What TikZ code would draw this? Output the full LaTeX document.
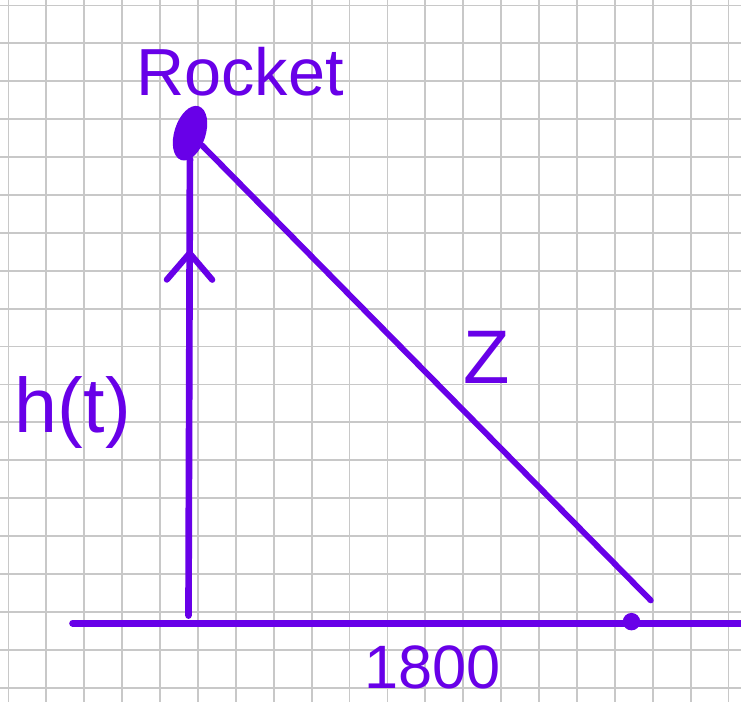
\documentclass[tikz,border=0pt]{standalone}
\usepackage{fontspec}
\setmainfont{Liberation Sans}
\usepackage{xcolor}
\usepackage{tikz}
\usetikzlibrary{shapes.geometric,arrows.meta,decorations.markings}
\definecolor{cStift}{RGB}{104,0,232}
\definecolor{cRaster}{RGB}{200,200,200}

\begin{document}
\begin{tikzpicture}[x=1cm,y=1cm,
  pen/.style={cStift,line width=5pt,line cap=round},
  thinpen/.style={cStift,line width=4.4pt,line cap=round},
  gridline/.style={cRaster,line width=1.4pt},
  label/.style={cStift,inner sep=0pt}]
\useasboundingbox (-0.224,-0.377) rectangle (19.33,18.145);
\clip (-0.224,-0.377) rectangle (19.33,18.145);
\fill[white] (-0.224,-0.377) rectangle (19.33,18.145);
\draw[gridline] (-1,-1) grid (20,19);
\coordinate (base) at (4.75,1.90);
\coordinate (gleft) at (1.69,1.70);
\coordinate (gright) at (19.6,1.70);
\coordinate (zend) at (16.95,2.30);
\node[ellipse,fill=cStift,draw=cStift,line width=2pt,minimum width=0.75cm,minimum height=1.42cm,inner sep=0pt,rotate=-18] (rocket) at (4.79,14.63) {};
\node[circle,fill=cStift,minimum size=0.46cm,inner sep=0pt] (obs) at (16.44,1.74) {};
\draw[pen] (gleft)--(gright);
\draw[pen,postaction={decorate},decoration={markings,mark=at position 0.8 with {\arrow[line width=4.6pt]{Straight Barb[round,length=0.7cm,width=1.2cm]}}}] (base)--(rocket);
\draw[thinpen] (rocket)--(zend);
\node[label,font=\fontsize{50}{52}\selectfont] (rlabel) at (6.11,16.25) {Rocket};
\node[label,font=\fontsize{57}{60}\selectfont] (zlabel) at (12.63,8.72) {Z};
\node[label,font=\fontsize{58}{60}\selectfont] (hlabel) at (1.70,7.27) {h(t)};
\node[label,anchor=north,font=\fontsize{46}{48}\selectfont] (dlabel) at (11.18,1.12) {1800};
\end{tikzpicture}
\end{document}
